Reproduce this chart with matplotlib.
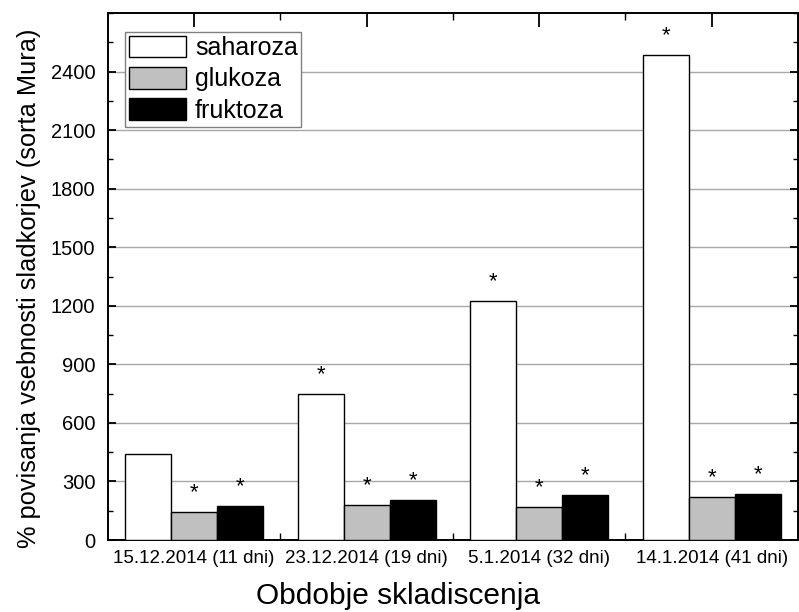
import matplotlib.pyplot as plt
import numpy as np
from matplotlib.ticker import MultipleLocator, FixedLocator

plt.rcParams["font.family"] = ["Liberation Sans", "DejaVu Sans"]

periods = ["15.12.2014 (11 dni)", "23.12.2014 (19 dni)", "5.1.2014 (32 dni)", "14.1.2014 (41 dni)"]
saharoza = [439, 747, 1225, 2485]
glukoza = [143, 178, 169, 220]
fruktoza = [172, 203, 229, 234]
# which bars carry a significance star
star_saharoza = [False, True, True, True]
star_glukoza = [True, True, True, True]
star_fruktoza = [True, True, True, True]


fig = plt.figure(figsize=(7.99, 6.12), dpi=100)
ax = fig.add_axes([0.135, 0.1176, 0.8637, 0.8612])

x = np.arange(len(periods))
w = 0.267

series = [
    (saharoza, "white", "saharoza", star_saharoza, -w),
    (glukoza, "#c0c0c0", "glukoza", star_glukoza, 0),
    (fruktoza, "black", "fruktoza", star_fruktoza, w),
]
for vals, color, label, stars, off in series:
    ax.bar(x + off, vals, w, color=color, edgecolor="black", linewidth=1.0,
           label=label, zorder=3)
    for xi, v, s in zip(x + off, vals, stars):
        if s:
            ax.annotate("*", (xi, v), xytext=(0, 14), textcoords="offset points",
                        ha="center", va="center", fontsize=16, zorder=4)

ax.set_xlim(-0.5, 3.5)
ax.set_ylim(0, 2700)
ax.yaxis.set_major_locator(FixedLocator([0, 300, 600, 900, 1200, 1500, 1800, 2100, 2400]))
ax.yaxis.set_minor_locator(MultipleLocator(150))
ax.set_xticks(x)
ax.set_xticklabels(periods, fontsize=13.5)
ax.xaxis.set_minor_locator(FixedLocator([0.5, 1.5, 2.5]))
ax.tick_params(axis="y", labelsize=14.5, pad=9)
ax.tick_params(axis="x", pad=7)
ax.tick_params(which="major", direction="in", top=True, right=True, width=1.3)
ax.tick_params(which="minor", direction="in", top=True, right=True, width=1.0)
ax.tick_params(axis="x", which="major", length=10)
ax.tick_params(axis="x", which="minor", length=5)
ax.tick_params(axis="y", which="major", length=6)
ax.tick_params(axis="y", which="minor", length=3.5)
ax.yaxis.grid(True, color="#a8a8a8", linewidth=1.0, zorder=0)
ax.set_axisbelow(True)
for sp in ax.spines.values():
    sp.set_linewidth(1.4)

ax.set_ylabel("% povisanja vsebnosti sladkorjev (sorta Mura)", fontsize=18.3)
ax.yaxis.set_label_coords(-0.097, 0.478)
ax.set_xlabel("Obdobje skladiscenja", fontsize=21.5)
ax.xaxis.set_label_coords(0.42, -0.079)

leg = ax.legend(loc="upper left", bbox_to_anchor=(0.0246, 0.964), fontsize=18,
                fancybox=False, framealpha=1, edgecolor="#808080",
                handlelength=2.3, handleheight=0.95, handletextpad=0.35,
                labelspacing=0.28, borderpad=0.15, borderaxespad=0)
leg.get_frame().set_linewidth(1.0)

plt.savefig("out.png", dpi=100)
plt.close()
